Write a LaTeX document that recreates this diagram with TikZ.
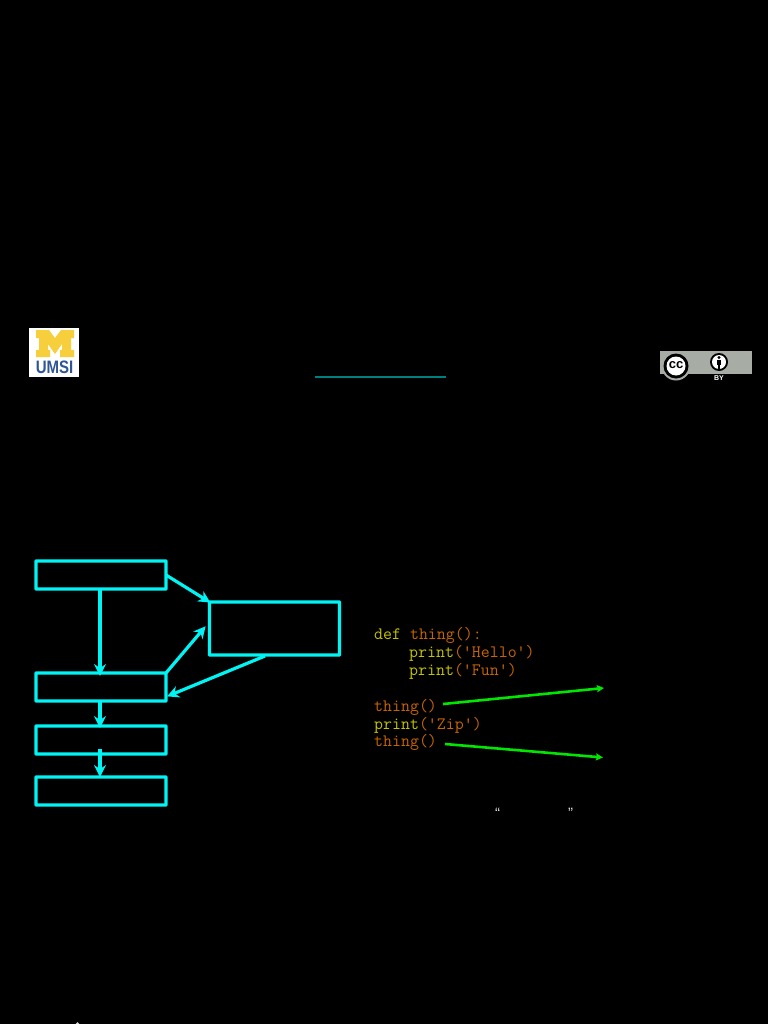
\documentclass[tikz,border=0pt]{standalone}
\usepackage{fontspec}
\usepackage{graphicx}
\setmainfont{Liberation Sans}
\usetikzlibrary{arrows.meta}
\definecolor{cyn}{HTML}{00F4F4}
\definecolor{grn}{HTML}{00E600}
\definecolor{kwy}{HTML}{C4C400}
\definecolor{kwo}{HTML}{C86400}
\definecolor{tealline}{HTML}{007F7F}
\definecolor{mich}{HTML}{F7CE3C}
\definecolor{umsi}{HTML}{2F5597}
\definecolor{ccgray}{HTML}{A7ADA5}
\newcommand{\yy}[1]{\textcolor{kwy}{#1}}
\newcommand{\oo}[1]{\textcolor{kwo}{#1}}
\tikzset{
  flowbox/.style={draw=cyn,line width=3.3pt,minimum width=130pt,inner sep=0pt,outer sep=0pt,rounded corners=0.5pt},
  flowarrow/.style={draw=cyn,line width=3.2pt,-{Stealth[length=12pt,width=12pt,inset=4pt]},shorten >=-1pt},
  callarrow/.style={draw=grn,line width=2.6pt,-{Stealth[length=7pt,width=7pt,inset=1pt]}},
  code/.style={anchor=base west,inner sep=0pt,font=\ttfamily\fontsize{17.4}{18}\selectfont},
  tinyquote/.style={text=white!85!black,inner sep=0pt,font=\fontsize{15}{15}\selectfont}
}
\begin{document}
\begin{tikzpicture}[x=1pt,y=-1pt]
\useasboundingbox (0,0) rectangle (768,1024);
\fill[black] (0,0) rectangle (768,1024);
% UMSI logo
\fill[white] (29,328) rectangle (79,377);
\fill[mich] (36,330) -- (49,330) -- (55,338) -- (61,330) -- (74,330) -- (74,338) -- (71,338) -- (71,350) -- (74,350) -- (74,357) -- (60,357) -- (60,350) -- (62,350) -- (62,344) -- (55,354) -- (48,344) -- (48,350) -- (50,350) -- (50,357) -- (36,357) -- (36,350) -- (39,350) -- (39,338) -- (36,338) -- cycle;
\node[text=umsi,inner sep=0pt,font=\bfseries\fontsize{15}{15}\selectfont] (umsilabel) at (54.5,367) {\scalebox{1}[1.2]{UMSI}};
% CC badge
\fill[ccgray] (660,351) rectangle (752,374);
\fill[ccgray] (676,366) circle (14.5);
\fill[black] (676,366) circle (12.5);
\fill[white] (676,366) circle (9.5);
\node[text=black,inner sep=0pt,font=\bfseries\fontsize{13}{13}\selectfont] (cclabel) at (676,365.5) {cc};
\fill[black] (719,362) circle (9);
\fill[white] (719,362) circle (7);
\fill[black] (719,357.5) circle (1.6);
\fill[black] (717,360) rectangle (721,365);
\fill[black] (718,365) rectangle (720,368.5);
\node[text=white,inner sep=0pt,font=\bfseries\fontsize{7}{7}\selectfont] (bylabel) at (719,378.5) {BY};
% teal rule
\coordinate (ruleA) at (315,377);
\coordinate (ruleB) at (446,377);
\draw[tealline,line width=1.6pt] (ruleA) -- (ruleB);
% flow boxes
\node[flowbox,minimum height=28pt] (b1) at (101,575) {};
\node[flowbox,minimum height=53pt] (b2) at (274.5,628.5) {};
\node[flowbox,minimum height=28pt] (b3) at (101,687) {};
\node[flowbox,minimum height=28pt] (b4) at (101,740) {};
\node[flowbox,minimum height=28pt] (b5) at (101,791) {};
% flow arrows
\coordinate (b1out) at (100,588);
\coordinate (b3in) at (100,675);
\coordinate (b3out) at (100,701);
\coordinate (b4in) at (100,727);
\coordinate (b4mid) at (100,749);
\coordinate (b5in) at (100,776);
\coordinate (b2side) at (205,627);
\coordinate (b2out) at (265,656);
\coordinate (b3side) at (168,696);
\draw[flowarrow] (b1.east) -- (b2.north west);
\draw[flowarrow] (b1out) -- (b3in);
\draw[flowarrow] (b3.north east) -- (b2side);
\draw[flowarrow] (b2out) -- (b3side);
\draw[flowarrow] (b3out) -- (b4in);
\draw[flowarrow] (b4mid) -- (b5in);
% code
\node[code] (c1) at (374,639) {\yy{def} \oo{thing():}};
\node[code] (c2) at (409,657) {\yy{print}\oo{('Hello')}};
\node[code] (c3) at (409,675) {\yy{print}\oo{('Fun')}};
\node[code] (c4) at (374,711) {\oo{thing()}};
\node[code] (c5) at (374,729) {\yy{print}\oo{('Zip')}};
\node[code] (c6) at (374,746) {\oo{thing()}};
% call arrows
\coordinate (g1a) at (443,704);
\coordinate (g1b) at (604,688);
\coordinate (g2a) at (445,744);
\coordinate (g2b) at (603,757.5);
\draw[callarrow] (g1a) -- (g1b);
\draw[callarrow] (g2a) -- (g2b);
% small marks
\node[tinyquote,anchor=base] (q1) at (497.5,818) {“};
\node[tinyquote,anchor=base] (q2) at (570.5,818) {”};
\fill[white!85!black] (75.5,1024) -- (77.5,1022) -- (79.5,1024) -- cycle;
\end{tikzpicture}
\end{document}
